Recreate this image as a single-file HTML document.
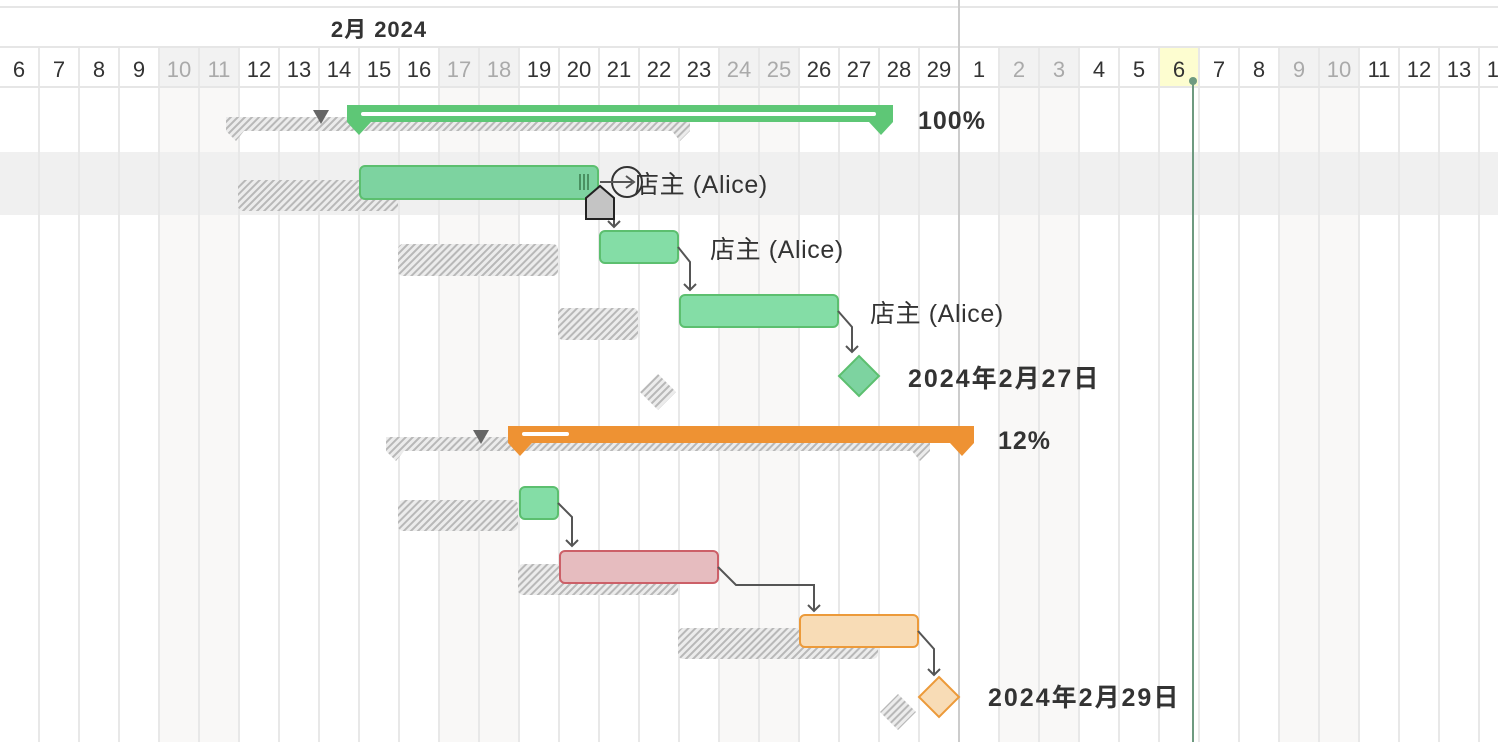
<!DOCTYPE html>
<html><head><meta charset="utf-8"><style>
body{margin:0;background:#fff;width:1498px;height:742px;overflow:hidden;font-family:"Liberation Sans","Noto Sans CJK SC",sans-serif}
</style></head><body>
<svg width="1498" height="742" xmlns="http://www.w3.org/2000/svg" font-family="Liberation Sans, Noto Sans CJK SC, sans-serif">
<defs>
<pattern id="h" width="5" height="5" patternUnits="userSpaceOnUse" patternTransform="rotate(45)">
<rect width="5" height="5" fill="#ececec"/><rect width="2" height="5" fill="#b8b8b8"/>
</pattern>
</defs>
<g id="bg"></g>
<rect x="0" y="152" width="1498" height="63" fill="#f0f0f0"/>
<g id="grid"></g>
<line x1="0" y1="7" x2="1498" y2="7" stroke="#e6e6e6" stroke-width="2"/>
<line x1="0" y1="47" x2="1498" y2="47" stroke="#e6e6e6" stroke-width="2"/>
<line x1="0" y1="87" x2="1498" y2="87" stroke="#e6e6e6" stroke-width="2"/>
<line x1="959" y1="0" x2="959" y2="742" stroke="#ccc" stroke-width="2"/>
<text x="379" y="37" font-size="22" font-weight="bold" fill="#333" text-anchor="middle" letter-spacing="1">2月 2024</text>
<g id="days" font-size="22" text-anchor="middle"></g>

<!-- summary 1 -->
<path d="M226 117H690V131L680 141L672 131H244L236 141L226 131Z" fill="url(#h)"/>
<path d="M313 110H329L321 124Z" fill="#666"/>
<path d="M347 105H893V122L881 135L869 122H371L359 135L347 122Z" fill="#5ec776"/>
<rect x="361" y="112" width="515" height="4" rx="2" fill="#fff"/>
<text x="918" y="129" font-size="25" font-weight="bold" fill="#333" letter-spacing="1">100%</text>

<!-- row 2 -->
<rect x="238" y="180" width="160" height="31" rx="5" fill="url(#h)"/>
<rect x="360" y="166" width="238" height="33" rx="5" fill="#7dd3a0" stroke="#5cbf6f" stroke-width="2"/>
<path d="M580 174v16M584 174v16M588 174v16" stroke="#3a7a4c" stroke-width="1.5"/>
<text x="634" y="193" font-size="25" fill="#333" letter-spacing="0.6">店主 (Alice)</text>
<circle cx="627" cy="182" r="15" fill="none" stroke="#333" stroke-width="2"/>
<path d="M600 182H632M626 176L634 182L626 188" stroke="#555" stroke-width="2" fill="none"/>
<path d="M614 212V227M608 221L614 227L620 221" stroke="#555" stroke-width="2" fill="none"/>
<path d="M586 198L600 186L614 198V219H586Z" fill="#c4c4c4" stroke="#222" stroke-width="2"/>

<!-- row 3 -->
<rect x="398" y="244" width="160" height="32" rx="5" fill="url(#h)"/>
<rect x="600" y="231" width="78" height="32" rx="5" fill="#84dda6" stroke="#5cbf6f" stroke-width="2"/>
<text x="710" y="258" font-size="25" fill="#333" letter-spacing="0.6">店主 (Alice)</text>
<path d="M678 247L690 262V290M684 284L690 290L696 284" stroke="#555" stroke-width="2" fill="none"/>

<!-- row 4 -->
<rect x="558" y="308" width="80" height="32" rx="5" fill="url(#h)"/>
<rect x="680" y="295" width="158" height="32" rx="5" fill="#84dda6" stroke="#5cbf6f" stroke-width="2"/>
<text x="870" y="322" font-size="25" fill="#333" letter-spacing="0.6">店主 (Alice)</text>
<path d="M838 311L852 327V352M846 346L852 352L858 346" stroke="#555" stroke-width="2" fill="none"/>

<!-- milestone 1 -->
<path d="M658 374L676 392L658 410L640 392Z" fill="url(#h)"/>
<path d="M859 356L879 376L859 396L839 376Z" fill="#7dd3a0" stroke="#5cbf6f" stroke-width="2"/>
<text x="908" y="387" font-size="25" font-weight="bold" fill="#333" letter-spacing="2">2024年2月27日</text>

<!-- summary 2 -->
<path d="M386 437H930V451L920 461L912 451H404L396 461L386 451Z" fill="url(#h)"/>
<path d="M473 430H489L481 444Z" fill="#666"/>
<path d="M508 426H974V443L962 456L950 443H532L520 456L508 443Z" fill="#ee9233"/>
<rect x="522" y="432" width="47" height="4" rx="2" fill="#fff"/>
<text x="998" y="449" font-size="25" font-weight="bold" fill="#333" letter-spacing="1">12%</text>

<!-- tasks -->
<rect x="398" y="500" width="120" height="31" rx="5" fill="url(#h)"/>
<rect x="520" y="487" width="38" height="32" rx="5" fill="#84dda6" stroke="#5cbf6f" stroke-width="2"/>
<path d="M558 503L572 517V546M566 540L572 546L578 540" stroke="#555" stroke-width="2" fill="none"/>

<rect x="518" y="564" width="160" height="31" rx="5" fill="url(#h)"/>
<rect x="560" y="551" width="158" height="32" rx="5" fill="#e6bcbf" stroke="#cc6068" stroke-width="2"/>
<path d="M718 567L736 585H814V611M808 605L814 611L820 605" stroke="#555" stroke-width="2" fill="none"/>

<rect x="678" y="628" width="200" height="31" rx="5" fill="url(#h)"/>
<rect x="800" y="615" width="118" height="32" rx="5" fill="#f8dcb6" stroke="#ec9a3a" stroke-width="2"/>
<path d="M918 631L934 649V675M928 669L934 675L940 669" stroke="#555" stroke-width="2" fill="none"/>

<path d="M898 694L916 712L898 730L880 712Z" fill="url(#h)"/>
<path d="M939 677L959 697L939 717L919 697Z" fill="#f8dcb6" stroke="#ec9a3a" stroke-width="2"/>
<text x="988" y="706" font-size="25" font-weight="bold" fill="#333" letter-spacing="2">2024年2月29日</text>

<line x1="1193" y1="81" x2="1193" y2="742" stroke="#6e9a80" stroke-width="2"/>
<circle cx="1193" cy="81" r="4" fill="#6e9a80"/>
</svg>
<script>
var ns="http://www.w3.org/2000/svg",bg=document.getElementById('bg'),gr=document.getElementById('grid'),dy=document.getElementById('days');
function el(p,t,a,txt){var e=document.createElementNS(ns,t);for(var k in a)e.setAttribute(k,a[k]);if(txt!=null)e.textContent=txt;p.appendChild(e);}
var labels=[],we=[];
for(var d=6;d<=29;d++){labels.push(d);we.push([10,11,17,18,24,25].indexOf(d)>=0);}
for(var d=1;d<=14;d++){labels.push(d);we.push([2,3,9,10].indexOf(d)>=0);}
for(var i=0;i<labels.length;i++){
 var x=i*40-1;
 if(we[i]){el(bg,'rect',{x:x,y:48,width:40,height:39,fill:'#f2f2f2'});el(bg,'rect',{x:x,y:88,width:40,height:654,fill:'#f9f8f7'});}
 if(i==29)el(bg,'rect',{x:x,y:48,width:40,height:39,fill:'#fdfdd0'});
 el(gr,'line',{x1:x+40,y1:47,x2:x+40,y2:742,stroke:'#e8e8e8','stroke-width':2});
 el(dy,'text',{x:x+20,y:77,fill:we[i]?'#aaa':'#333'},labels[i]);
}
</script>
</body></html>
